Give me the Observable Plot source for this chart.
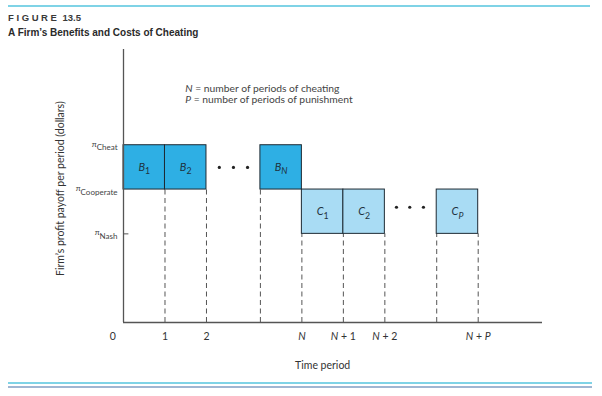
<!DOCTYPE html>
<html>
<head>
<meta charset="utf-8">
<script src="https://cdn.jsdelivr.net/npm/d3@7"></script>
<script src="https://cdn.jsdelivr.net/npm/@observablehq/plot@0.6"></script>
<style>
  html, body { margin: 0; padding: 0; background: #fff; width: 602px; height: 396px; overflow: hidden; }
  #header { position: relative; height: 44px; }
  #topline { position: absolute; left: 8px; top: 5px; width: 582px; height: 2px; background: #7fd3e6; }
  #fig { position: absolute; left: 8px; top: 12px; font: bold 9.5px "Liberation Sans", Arial, sans-serif; color: #3a3a3a; }
  #fig .f { letter-spacing: 2.6px; margin-right: 3px; }
  #sub { position: absolute; left: 8px; top: 27px; font: bold 10px "Liberation Sans", Arial, sans-serif; color: #2a2a2a; }
  #footer { position: relative; height: 22px; }
  #l1 { position: absolute; left: 8px; top: 8px; width: 584px; height: 1.5px; background: #7fd3e6; }
  #l2 { position: absolute; left: 8px; top: 12px; width: 584px; height: 1.5px; background: #9fb6d2; }
  svg text { font-family: Lato, "Open Sans", sans-serif; }
</style>
</head>
<body>
<div id="header">
  <div id="topline"></div>
  <div id="fig"><span class="f">FIGURE</span>13.5</div>
  <div id="sub">A Firm’s Benefits and Costs of Cheating</div>
</div>
<div id="chart"></div>
<div id="footer"><div id="l1"></div><div id="l2"></div></div>
<script>
// Profit levels (y)
const levelNames = ["π_Cheat", "π_Cooperate", "π_Nash"];
const levelValues = [4, 3, 2];

// Boxes: benefits (B) and costs (C) of cheating
const boxLabels = ["B_1", "B_2", "B_N", "C_1", "C_2", "C_P"];
const boxStart = [0, 1, 3.3, 4.3, 5.3, 7.55];
const boxEnd = [1, 2, 4.3, 5.3, 6.3, 8.55];
const boxLow = [3, 3, 3, 2, 2, 2];
const boxHigh = [4, 4, 4, 3, 3, 3];
const boxKind = ["B", "B", "B", "C", "C", "C"];

// Time-period tick labels
const tickLabels = ["0", "1", "2", "N", "N + 1", "N + 2", "N + P"];
const tickPos = [-0.26, 1, 2, 4.3, 5.3, 6.3, 8.55];

// Dashed guides
const guideX = [1, 2, 3.3, 4.3, 5.3, 6.3, 7.55, 8.55];
const guideTop = [3, 3, 3, 2, 2, 2, 2, 2];

// Ellipsis dots
const dotX = [2.31, 2.65, 2.99, 6.58, 6.9, 7.23];
const dotY = [3.5, 3.5, 3.5, 2.6, 2.6, 2.6];

// Legend notes
const notes = ["N = number of periods of cheating", "P = number of periods of punishment"];
const noteY = [5.28, 5.03];

const boxes = boxLabels.map((l, i) => ({label: l, x1: boxStart[i], x2: boxEnd[i], y1: boxLow[i], y2: boxHigh[i], kind: boxKind[i]}));
const levels = levelNames.map((n, i) => ({name: n, y: levelValues[i]}));
const ticks = tickLabels.map((t, i) => ({t, x: tickPos[i]}));
const guides = guideX.map((x, i) => ({x, top: guideTop[i]}));
const dots = dotX.map((x, i) => ({x, y: dotY[i]}));
const noteRows = notes.map((t, i) => ({t, y: noteY[i]}));

const plot = Plot.plot({
  width: 602,
  height: 330,
  marginLeft: 123,
  marginRight: 60,
  marginTop: 5,
  marginBottom: 52,
  x: {domain: [0, 10.1], axis: null},
  y: {domain: [0, 6.16], axis: null},
  marks: [
    Plot.ruleX(guides, {x: "x", y1: 0, y2: "top", stroke: "#555", strokeWidth: 1, strokeDasharray: "5,3.5"}),
    Plot.rect(boxes, {x1: "x1", x2: "x2", y1: "y1", y2: "y2",
      fill: d => d.kind === "B" ? "#2eafe4" : "#a9dcf4", stroke: "#1e2a33", strokeWidth: 1}),
    Plot.text(boxes, {x: d => (d.x1 + d.x2) / 2, y: d => (d.y1 + d.y2) / 2, text: "label", fontSize: 11, fill: "#1f3340"}),
    Plot.dot(dots, {x: "x", y: "y", r: 1.6, fill: "#222", stroke: null}),
    Plot.ruleX([0], {y1: 0, y2: 6.16, stroke: "#555", strokeWidth: 1.3}),
    Plot.ruleY([0], {x1: 0, x2: 10.1, stroke: "#555", strokeWidth: 1.3}),
    Plot.ruleY([2], {x1: 0, x2: 0.13, stroke: "#555", strokeWidth: 1}),
    Plot.text(levels, {x: 0, y: "y", text: "name", textAnchor: "end", dx: -6, dy: -1, fontSize: 8, fill: "#444"}),
    Plot.text(ticks, {x: "x", y: 0, text: "t", dy: 14, fontSize: 10.5, fill: "#333"}),
    Plot.text(noteRows, {x: 1.49, y: "y", text: "t", textAnchor: "start", fontSize: 10.3, fill: "#444"}),
    Plot.text(["Time period"], {x: 4.8, y: 0, text: d => d, dy: 43, fontSize: 10.5, fill: "#333"}),
    Plot.text(["Firm’s profit payoff per period (dollars)"], {x: 0, y: 3.02, text: d => d, rotate: -90, dx: -63, fontSize: 10.5, fill: "#333"})
  ]
});

// Rich text: italic variables and subscripts
d3.select(plot).selectAll("text").each(function() {
  const s = this.textContent;
  if (!/_|\b[NPBC]\b/.test(s)) return;
  const el = d3.select(this);
  el.text(null);
  const [main, sub] = s.split("_");
  main.split(/(\b[NPBC]\b)/).forEach(part => {
    if (!part) return;
    const t = el.append("tspan").text(part);
    if (/^[NPBC]$/.test(part)) t.attr("font-style", "italic");
  });
  if (sub) {
    el.append("tspan").attr("dy", 3.5).attr("font-size", main === "π" ? "1em" : "0.8em")
      .attr("font-style", /^[NP]$/.test(sub) ? "italic" : null).text(sub);
  }
});

document.getElementById("chart").appendChild(plot);
</script>
</body>
</html>
